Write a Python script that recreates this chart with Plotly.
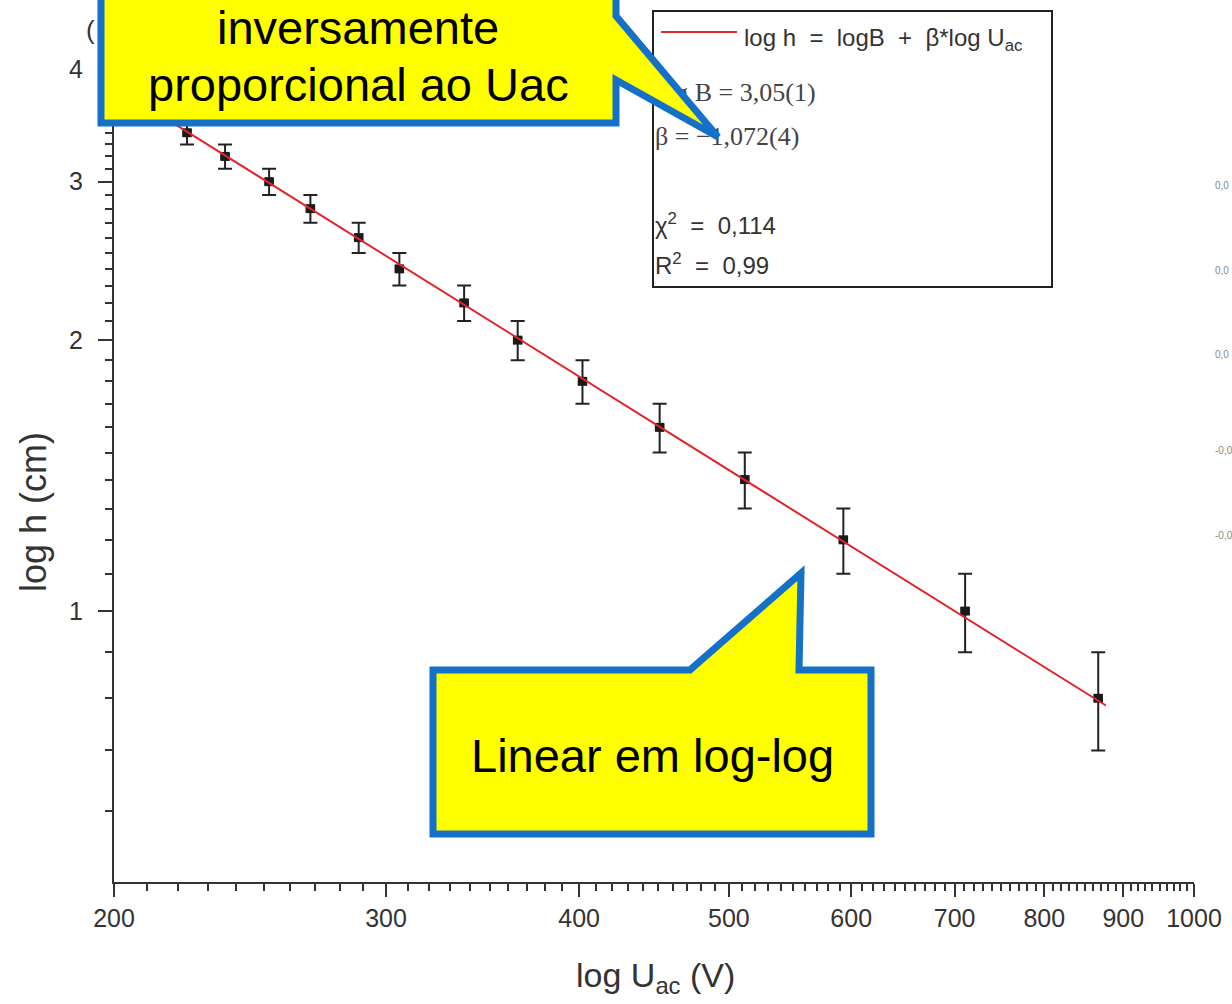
import numpy as np
import plotly.graph_objects as go

# Accelerating voltage (V) and measured height (cm)
u_ac = [223, 236, 252, 268, 288, 306, 337, 365, 402, 451, 512, 593, 711, 867]
h_cm = [3.4, 3.2, 3.0, 2.8, 2.6, 2.4, 2.2, 2.0, 1.8, 1.6, 1.4, 1.2, 1.0, 0.8]
h_err = [0.1] * len(h_cm)

# Fit parameters: log h = log B + beta * log U_ac
log_b = 3.05
beta = -1.072

x_ticks = [200, 300, 400, 500, 600, 700, 800, 900, 1000]
y_ticks = [1, 2, 3, 4]
x_minor = [v for v in range(210, 1000, 10) if v % 100]
y_minor = [round(v * 0.1, 1) for v in range(6, 48) if v % 10]

W, H = 1232, 1004
ML, MR, MT, MB = 114, 38, 0, 122
PW, PH = W - ML - MR, H - MT - MB


def fx(px):
    return (px - ML) / PW


def fy(py):
    return (H - MB - py) / PH


u_fit = np.logspace(np.log10(u_ac[0]) - 0.01, np.log10(u_ac[-1]) + 0.005, 60)
h_fit = 10 ** (log_b + beta * np.log10(u_fit))

AX = "#333333"
FONT = "Liberation Sans, Arial, sans-serif"
SERIF = "Liberation Serif, Times New Roman, serif"

fig = go.Figure()

fig.add_trace(go.Scatter(
    x=u_ac, y=h_cm, mode="markers",
    marker=dict(symbol="square", size=9, color="#1a1a1a"),
    error_y=dict(type="data", array=h_err, visible=True,
                 thickness=2, width=7, color="#222222"),
    error_x=dict(type="percent", value=0.6, visible=True,
                 thickness=1.5, width=4, color="#222222"),
    showlegend=False,
))

fig.add_trace(go.Scatter(
    x=u_fit, y=h_fit, mode="lines",
    line=dict(color="#e3242b", width=2),
    showlegend=False,
))

# Fit summary text, placed on an overlay axis so the callout can sit above it
fig.add_trace(go.Scatter(
    x=[fx(744), fx(655), fx(655)], y=[fy(40), fy(228), fy(268)],
    xaxis="x2", yaxis="y2", mode="text",
    text=["log h  =  logB  +  β*log U<sub>ac</sub>",
          "χ<sup>2</sup>  =  0,114", "R<sup>2</sup>  =  0,99"],
    textposition="middle right",
    textfont=dict(family=FONT, size=24, color="#333333"),
    cliponaxis=False, showlegend=False,
))
fig.add_trace(go.Scatter(
    x=[fx(655), fx(655)], y=[fy(94), fy(138)],
    xaxis="x2", yaxis="y2", mode="text",
    text=["log B = 3,05(1)", "β = −1,072(4)"],
    textposition="middle right",
    textfont=dict(family=SERIF, size=26, color="#444444"),
    cliponaxis=False, showlegend=False,
))

shapes = [
    # fit summary frame and line sample
    dict(type="rect", xref="paper", yref="paper",
         x0=fx(653), x1=fx(1052), y0=fy(11), y1=fy(287),
         line=dict(color="#222222", width=2), layer="above"),
    dict(type="line", xref="paper", yref="paper",
         x0=fx(661), x1=fx(737), y0=fy(32), y1=fy(32),
         line=dict(color="#e3242b", width=2), layer="above"),
]


def callout(points):
    path = "M " + " L ".join(f"{fx(a):.5f},{fy(b):.5f}" for a, b in points) + " Z"
    return dict(type="path", xref="paper", yref="paper", path=path,
                fillcolor="#ffff00", line=dict(color="#1570c8", width=7),
                layer="above")


shapes.append(callout([(101, -30), (616, -30), (616, 16), (718, 137),
                       (616, 80), (616, 123), (101, 123)]))
shapes.append(callout([(433, 670), (690, 670), (801, 573), (799, 670),
                       (871, 670), (871, 834), (433, 834)]))


def note(text, px, py, size, color="black", family=FONT, **kw):
    return dict(text=text, x=fx(px), y=fy(py), xref="paper", yref="paper",
                xanchor=kw.pop("xanchor", "center"), yanchor="middle",
                showarrow=False, font=dict(family=family, size=size, color=color), **kw)


annotations = [
    note("inversamente", 358, 27, 47),
    note("proporcional ao Uac", 358, 85, 47),
    note("Linear em log-log", 652, 755, 47),
    note("(", 90, 30, 26, "#333333"),
    note("log h (cm)", 33, 512, 36, "#333333", textangle=-90),
    note("log U<sub>ac</sub> (V)", 655, 978, 34, "#333333"),
]
for yy, lab in zip([185, 270, 355, 450, 535], ["0,0", "0,0", "0,0", "-0,0", "-0,0"]):
    annotations.append(note(lab, 1213, yy, 10, "#888888", xanchor="left"))

fig.update_layout(
    width=W, height=H,
    margin=dict(l=ML, r=MR, t=MT, b=MB, autoexpand=False),
    paper_bgcolor="white", plot_bgcolor="white",
    shapes=shapes, annotations=annotations,
    xaxis=dict(
        type="log", range=[np.log10(200), np.log10(1000)],
        tickmode="array", tickvals=x_ticks, ticktext=[str(v) for v in x_ticks],
        ticks="outside", ticklen=13, tickwidth=2, tickcolor=AX,
        showline=True, linewidth=2, linecolor=AX, showgrid=False, zeroline=False,
        tickfont=dict(family=FONT, size=25, color="#333333"),
        minor=dict(tickmode="array", tickvals=x_minor, ticks="outside",
                   ticklen=7, tickwidth=1.5, tickcolor=AX, showgrid=False),
    ),
    yaxis=dict(
        type="log", range=[np.log10(0.5), np.log10(0.5) + PH / 900],
        tickmode="array", tickvals=y_ticks, ticktext=[str(v) for v in y_ticks],
        ticks="outside", ticklen=14, tickwidth=2, tickcolor=AX,
        ticklabelstandoff=10,
        showline=True, linewidth=2, linecolor=AX, showgrid=False, zeroline=False,
        tickfont=dict(family=FONT, size=25, color="#333333"),
        minor=dict(tickmode="array", tickvals=y_minor, ticks="outside",
                   ticklen=7, tickwidth=1.5, tickcolor=AX, showgrid=False),
    ),
    xaxis2=dict(overlaying="x", range=[0, 1], visible=False, anchor="y2"),
    yaxis2=dict(overlaying="y", range=[0, 1], visible=False, anchor="x2"),
)

fig.write_html("out.html")
